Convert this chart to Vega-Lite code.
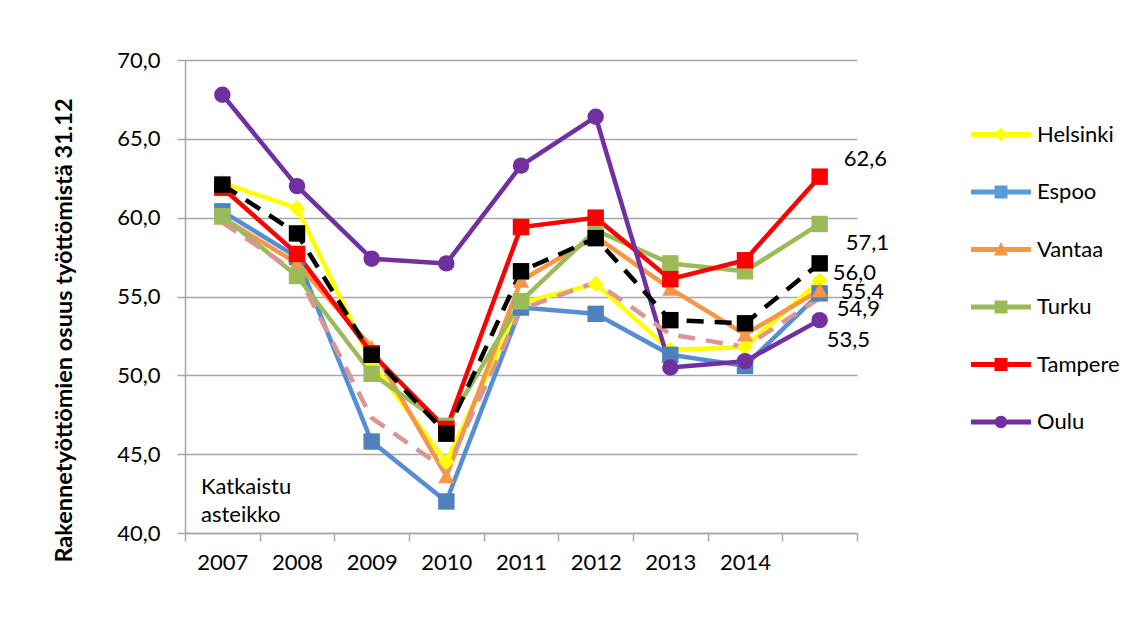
{
  "$schema": "https://vega.github.io/schema/vega-lite/v6.json",
  "width": 672,
  "height": 473,
  "autosize": {"type": "none"},
  "padding": {"left": 185, "top": 60, "right": 273, "bottom": 109},
  "background": "white",
  "config": {
    "font": "Lato",
    "locale": {"number": {"decimal": ",", "thousands": "\u00a0", "grouping": [3], "currency": ["", "\u00a0€"]}},
    "view": {"stroke": null},
    "axis": {
      "labelFont": "Lato", "labelFontSize": 22, "labelColor": "#000000",
      "domainColor": "#A6A6A6", "domainWidth": 1.5,
      "tickColor": "#A6A6A6", "tickWidth": 1.5, "tickSize": 8,
      "gridColor": "#A6A6A6", "gridWidth": 1.5
    }
  },
  "datasets": {
    "main": [
      {"series": "Helsinki", "year": "2007", "value": 62.2},
      {"series": "Helsinki", "year": "2008", "value": 60.6},
      {"series": "Helsinki", "year": "2009", "value": 50.8},
      {"series": "Helsinki", "year": "2010", "value": 44.5},
      {"series": "Helsinki", "year": "2011", "value": 54.6},
      {"series": "Helsinki", "year": "2012", "value": 55.8},
      {"series": "Helsinki", "year": "2013", "value": 51.6},
      {"series": "Helsinki", "year": "2014", "value": 51.8},
      {"series": "Helsinki", "year": "2015", "value": 56.0},
      {"series": "Espoo", "year": "2007", "value": 60.4},
      {"series": "Espoo", "year": "2008", "value": 57.5},
      {"series": "Espoo", "year": "2009", "value": 45.8},
      {"series": "Espoo", "year": "2010", "value": 42.0},
      {"series": "Espoo", "year": "2011", "value": 54.3},
      {"series": "Espoo", "year": "2012", "value": 53.9},
      {"series": "Espoo", "year": "2013", "value": 51.3},
      {"series": "Espoo", "year": "2014", "value": 50.6},
      {"series": "Espoo", "year": "2015", "value": 55.2},
      {"series": "Vantaa", "year": "2007", "value": 60.0},
      {"series": "Vantaa", "year": "2008", "value": 57.1},
      {"series": "Vantaa", "year": "2009", "value": 51.8},
      {"series": "Vantaa", "year": "2010", "value": 43.6},
      {"series": "Vantaa", "year": "2011", "value": 56.0},
      {"series": "Vantaa", "year": "2012", "value": 58.8},
      {"series": "Vantaa", "year": "2013", "value": 55.5},
      {"series": "Vantaa", "year": "2014", "value": 52.6},
      {"series": "Vantaa", "year": "2015", "value": 55.4},
      {"series": "Turku", "year": "2007", "value": 60.1},
      {"series": "Turku", "year": "2008", "value": 56.3},
      {"series": "Turku", "year": "2009", "value": 50.1},
      {"series": "Turku", "year": "2010", "value": 46.8},
      {"series": "Turku", "year": "2011", "value": 54.7},
      {"series": "Turku", "year": "2012", "value": 59.2},
      {"series": "Turku", "year": "2013", "value": 57.1},
      {"series": "Turku", "year": "2014", "value": 56.6},
      {"series": "Turku", "year": "2015", "value": 59.6},
      {"series": "Tampere", "year": "2007", "value": 61.9},
      {"series": "Tampere", "year": "2008", "value": 57.7},
      {"series": "Tampere", "year": "2009", "value": 51.4},
      {"series": "Tampere", "year": "2010", "value": 46.6},
      {"series": "Tampere", "year": "2011", "value": 59.4},
      {"series": "Tampere", "year": "2012", "value": 60.0},
      {"series": "Tampere", "year": "2013", "value": 56.1},
      {"series": "Tampere", "year": "2014", "value": 57.3},
      {"series": "Tampere", "year": "2015", "value": 62.6},
      {"series": "Oulu", "year": "2007", "value": 67.8},
      {"series": "Oulu", "year": "2008", "value": 62.0},
      {"series": "Oulu", "year": "2009", "value": 57.4},
      {"series": "Oulu", "year": "2010", "value": 57.1},
      {"series": "Oulu", "year": "2011", "value": 63.3},
      {"series": "Oulu", "year": "2012", "value": 66.4},
      {"series": "Oulu", "year": "2013", "value": 50.5},
      {"series": "Oulu", "year": "2014", "value": 50.9},
      {"series": "Oulu", "year": "2015", "value": 53.5},
      {"series": "Sarja 8", "year": "2007", "value": 59.7},
      {"series": "Sarja 8", "year": "2008", "value": 56.5},
      {"series": "Sarja 8", "year": "2009", "value": 47.3},
      {"series": "Sarja 8", "year": "2010", "value": 44.0},
      {"series": "Sarja 8", "year": "2011", "value": 54.2},
      {"series": "Sarja 8", "year": "2012", "value": 55.9},
      {"series": "Sarja 8", "year": "2013", "value": 52.6},
      {"series": "Sarja 8", "year": "2014", "value": 51.8},
      {"series": "Sarja 8", "year": "2015", "value": 54.9},
      {"series": "Sarja 7", "year": "2007", "value": 62.1},
      {"series": "Sarja 7", "year": "2008", "value": 59.0},
      {"series": "Sarja 7", "year": "2009", "value": 51.3},
      {"series": "Sarja 7", "year": "2010", "value": 46.3},
      {"series": "Sarja 7", "year": "2011", "value": 56.6},
      {"series": "Sarja 7", "year": "2012", "value": 58.7},
      {"series": "Sarja 7", "year": "2013", "value": 53.5},
      {"series": "Sarja 7", "year": "2014", "value": 53.3},
      {"series": "Sarja 7", "year": "2015", "value": 57.1}
    ]
  },
  "layer": [
    {
      "data": {"name": "main"},
      "transform": [{"filter": {"field": "series", "oneOf": ["Helsinki", "Espoo", "Vantaa", "Turku", "Tampere", "Oulu"]}}],
      "mark": {"type": "line", "strokeWidth": 4.5, "strokeJoin": "round", "strokeCap": "round"},
      "encoding": {
        "x": {
          "field": "year", "type": "nominal", "bandPosition": 0.5,
          "scale": {"type": "band", "paddingInner": 0, "paddingOuter": 0},
          "axis": {"title": null, "tickBand": "extent", "labelPadding": 11, "labelAngle": 0, "grid": false,
                   "labelExpr": "datum.label == '2015' ? '' : datum.label"}
        },
        "y": {
          "field": "value", "type": "quantitative",
          "scale": {"domain": [40, 70], "nice": false, "zero": false},
          "axis": {
            "title": "Rakennetyöttömien osuus työttömistä 31.12",
            "titleFont": "Lato", "titleFontSize": 23.5, "titleFontWeight": "bold", "titleColor": "#000000",
            "titleX": -121, "titleY": 270, "titleBaseline": "middle",
            "values": [40, 45, 50, 55, 60, 65, 70], "format": ".1f",
            "labelPadding": 17, "grid": true
          }
        },
        "color": {
          "field": "series", "type": "nominal", "legend": null,
          "scale": {"domain": ["Helsinki", "Espoo", "Vantaa", "Turku", "Tampere", "Oulu"],
                    "range": ["#FFFF00", "#558ED5", "#F79646", "#9BBB59", "#FF0000", "#7030A0"]}
        }
      }
    },
    {
      "data": {"name": "main"},
      "transform": [{"filter": {"field": "series", "equal": "Sarja 8"}}],
      "mark": {"type": "line", "stroke": "#D99694", "strokeWidth": 4.5, "strokeDash": [17, 11]},
      "encoding": {
        "x": {"field": "year", "type": "nominal", "bandPosition": 0.5},
        "y": {"field": "value", "type": "quantitative"}
      }
    },
    {
      "data": {"name": "main"},
      "transform": [{"filter": {"field": "series", "equal": "Sarja 7"}}],
      "mark": {"type": "line", "stroke": "#000000", "strokeWidth": 4.5, "strokeDash": [17, 11]},
      "encoding": {
        "x": {"field": "year", "type": "nominal", "bandPosition": 0.5},
        "y": {"field": "value", "type": "quantitative"}
      }
    },
    {
      "data": {"name": "main"},
      "transform": [{"filter": {"field": "series", "oneOf": ["Helsinki", "Espoo", "Vantaa", "Turku", "Tampere", "Oulu"]}}],
      "mark": {"type": "point", "filled": true, "opacity": 1, "size": 270},
      "encoding": {
        "x": {"field": "year", "type": "nominal", "bandPosition": 0.5},
        "y": {"field": "value", "type": "quantitative"},
        "color": {
          "field": "series", "type": "nominal", "legend": null,
          "scale": {"domain": ["Helsinki", "Espoo", "Vantaa", "Turku", "Tampere", "Oulu"],
                    "range": ["#FFFF00", "#4F81BD", "#F79646", "#9BBB59", "#FF0000", "#7030A0"]}
        },
        "shape": {
          "field": "series", "type": "nominal", "legend": null,
          "scale": {"domain": ["Helsinki", "Espoo", "Vantaa", "Turku", "Tampere", "Oulu"],
                    "range": ["diamond", "square", "triangle-up", "square", "square", "circle"]}
        }
      }
    },
    {
      "data": {"name": "main"},
      "transform": [{"filter": {"field": "series", "equal": "Sarja 7"}}],
      "mark": {"type": "point", "filled": true, "opacity": 1, "size": 270, "shape": "square", "color": "#000000"},
      "encoding": {
        "x": {"field": "year", "type": "nominal", "bandPosition": 0.5},
        "y": {"field": "value", "type": "quantitative"}
      }
    },
    {
      "data": {"name": "main"},
      "transform": [{"filter": "datum.series == 'Tampere' && datum.year == '2015'"}],
      "mark": {"type": "text", "align": "left", "baseline": "middle", "dx": 24, "dy": -18, "fontSize": 22, "color": "#000000"},
      "encoding": {
        "x": {"field": "year", "type": "nominal", "bandPosition": 0.5},
        "y": {"field": "value", "type": "quantitative"},
        "text": {"field": "value", "type": "quantitative", "format": ".1f"}
      }
    },
    {
      "data": {"name": "main"},
      "transform": [{"filter": "datum.series == 'Sarja 7' && datum.year == '2015'"}],
      "mark": {"type": "text", "align": "left", "baseline": "middle", "dx": 26, "dy": -20, "fontSize": 22, "color": "#000000"},
      "encoding": {
        "x": {"field": "year", "type": "nominal", "bandPosition": 0.5},
        "y": {"field": "value", "type": "quantitative"},
        "text": {"field": "value", "type": "quantitative", "format": ".1f"}
      }
    },
    {
      "data": {"name": "main"},
      "transform": [{"filter": "datum.series == 'Helsinki' && datum.year == '2015'"}],
      "mark": {"type": "text", "align": "left", "baseline": "middle", "dx": 13, "dy": -8, "fontSize": 22, "color": "#000000"},
      "encoding": {
        "x": {"field": "year", "type": "nominal", "bandPosition": 0.5},
        "y": {"field": "value", "type": "quantitative"},
        "text": {"field": "value", "type": "quantitative", "format": ".1f"}
      }
    },
    {
      "data": {"name": "main"},
      "transform": [{"filter": "datum.series == 'Vantaa' && datum.year == '2015'"}],
      "mark": {"type": "text", "align": "left", "baseline": "middle", "dx": 21, "dy": 2, "fontSize": 22, "color": "#000000"},
      "encoding": {
        "x": {"field": "year", "type": "nominal", "bandPosition": 0.5},
        "y": {"field": "value", "type": "quantitative"},
        "text": {"field": "value", "type": "quantitative", "format": ".1f"}
      }
    },
    {
      "data": {"name": "main"},
      "transform": [{"filter": "datum.series == 'Sarja 8' && datum.year == '2015'"}],
      "mark": {"type": "text", "align": "left", "baseline": "middle", "dx": 17, "dy": 11, "fontSize": 22, "color": "#000000"},
      "encoding": {
        "x": {"field": "year", "type": "nominal", "bandPosition": 0.5},
        "y": {"field": "value", "type": "quantitative"},
        "text": {"field": "value", "type": "quantitative", "format": ".1f"}
      }
    },
    {
      "data": {"name": "main"},
      "transform": [{"filter": "datum.series == 'Oulu' && datum.year == '2015'"}],
      "mark": {"type": "text", "align": "left", "baseline": "middle", "dx": 7, "dy": 20, "fontSize": 22, "color": "#000000"},
      "encoding": {
        "x": {"field": "year", "type": "nominal", "bandPosition": 0.5},
        "y": {"field": "value", "type": "quantitative"},
        "text": {"field": "value", "type": "quantitative", "format": ".1f"}
      }
    },
    {
      "data": {"values": [{}]},
      "mark": {"type": "text", "text": ["Katkaistu", "asteikko"], "align": "left", "baseline": "middle", "lineHeight": 28, "dx": 16, "fontSize": 22, "color": "#000000"},
      "encoding": {
        "x": {"datum": "2007", "bandPosition": 0},
        "y": {"datum": 42.9}
      }
    },
    {
      "data": {"name": "main"},
      "transform": [{"filter": "datum.series == '__none__'"}],
      "mark": {"type": "point", "filled": true, "opacity": 1, "size": 400},
      "encoding": {
        "x": {"field": "year", "type": "nominal", "bandPosition": 0.5},
        "y": {"field": "value", "type": "quantitative"},
        "color": {
          "field": "series", "type": "nominal",
          "scale": {"domain": ["Helsinki", "Espoo", "Vantaa", "Turku", "Tampere", "Oulu"],
                    "range": ["#FFFF00", "#5B9BD5", "#F79646", "#9BBB59", "#FF0000", "#7030A0"]},
          "legend": {"orient": "none", "legendX": 805, "legendY": 63.5, "title": null, "symbolSize": 400,
                     "labelFont": "Lato", "labelFontSize": 22, "labelColor": "#000000", "labelOffset": 25,
                     "rowPadding": 35.5, "symbolStrokeWidth": 0}
        },
        "shape": {
          "field": "series", "type": "nominal",
          "scale": {"domain": ["Helsinki", "Espoo", "Vantaa", "Turku", "Tampere", "Oulu"],
                    "range": [
                      "M-3,-0.25H3V0.25H-3Z M0,-0.7L0.7,0L0,0.7L-0.7,0Z",
                      "M-3,-0.25H3V0.25H-3Z M-0.65,-0.65H0.65V0.65H-0.65Z",
                      "M-3,-0.25H3V0.25H-3Z M0,-0.75L0.7,0.6L-0.7,0.6Z",
                      "M-3,-0.25H3V0.25H-3Z M-0.65,-0.65H0.65V0.65H-0.65Z",
                      "M-3,-0.25H3V0.25H-3Z M-0.65,-0.65H0.65V0.65H-0.65Z",
                      "M-3,-0.25H3V0.25H-3Z M0.62,0A0.62,0.62,0,1,1,-0.62,0A0.62,0.62,0,1,1,0.62,0Z"
                    ]},
          "legend": {"orient": "none", "legendX": 805, "legendY": 63.5, "title": null, "symbolSize": 400,
                     "labelFont": "Lato", "labelFontSize": 22, "labelColor": "#000000", "labelOffset": 25,
                     "rowPadding": 35.5, "symbolStrokeWidth": 0}
        }
      }
    }
  ],
  "resolve": {"scale": {"color": "independent", "shape": "independent"}}
}
